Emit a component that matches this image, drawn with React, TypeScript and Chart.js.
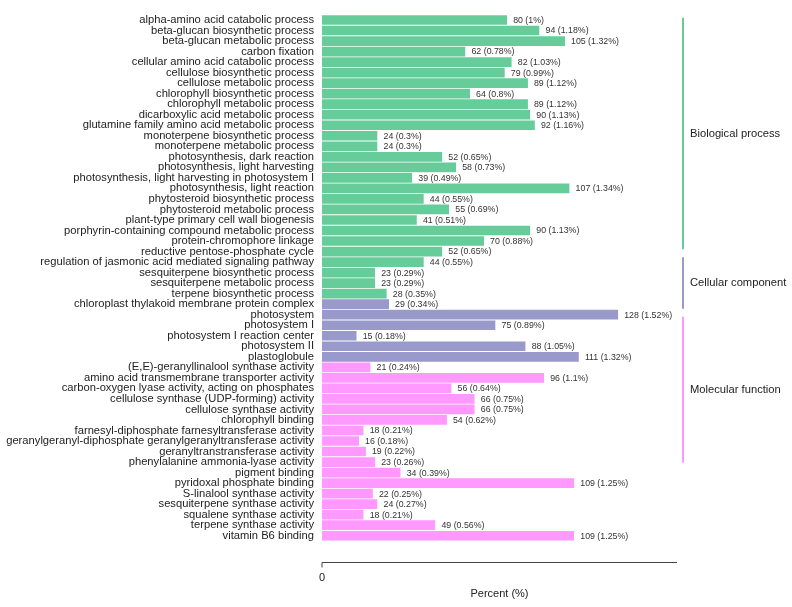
import React, { useEffect, useRef } from "react";
import { Chart, registerables } from "chart.js";

Chart.register(...registerables);

const categories: string[] = [
  "alpha-amino acid catabolic process",
  "beta-glucan biosynthetic process",
  "beta-glucan metabolic process",
  "carbon fixation",
  "cellular amino acid catabolic process",
  "cellulose biosynthetic process",
  "cellulose metabolic process",
  "chlorophyll biosynthetic process",
  "chlorophyll metabolic process",
  "dicarboxylic acid metabolic process",
  "glutamine family amino acid metabolic process",
  "monoterpene biosynthetic process",
  "monoterpene metabolic process",
  "photosynthesis, dark reaction",
  "photosynthesis, light harvesting",
  "photosynthesis, light harvesting in photosystem I",
  "photosynthesis, light reaction",
  "phytosteroid biosynthetic process",
  "phytosteroid metabolic process",
  "plant-type primary cell wall biogenesis",
  "porphyrin-containing compound metabolic process",
  "protein-chromophore linkage",
  "reductive pentose-phosphate cycle",
  "regulation of jasmonic acid mediated signaling pathway",
  "sesquiterpene biosynthetic process",
  "sesquiterpene metabolic process",
  "terpene biosynthetic process",
  "chloroplast thylakoid membrane protein complex",
  "photosystem",
  "photosystem I",
  "photosystem I reaction center",
  "photosystem II",
  "plastoglobule",
  "(E,E)-geranyllinalool synthase activity",
  "amino acid transmembrane transporter activity",
  "carbon-oxygen lyase activity, acting on phosphates",
  "cellulose synthase (UDP-forming) activity",
  "cellulose synthase activity",
  "chlorophyll binding",
  "farnesyl-diphosphate farnesyltransferase activity",
  "geranylgeranyl-diphosphate geranylgeranyltransferase activity",
  "geranyltranstransferase activity",
  "phenylalanine ammonia-lyase activity",
  "pigment binding",
  "pyridoxal phosphate binding",
  "S-linalool synthase activity",
  "sesquiterpene synthase activity",
  "squalene synthase activity",
  "terpene synthase activity",
  "vitamin B6 binding",
];

const counts: number[] = [
  80, 94, 105, 62, 82, 79, 89, 64, 89, 90, 92, 24, 24, 52, 58, 39, 107, 44, 55, 41, 90, 70, 52, 44, 23, 23, 28,
  29, 128, 75, 15, 88, 111,
  21, 96, 56, 66, 66, 54, 18, 16, 19, 23, 34, 109, 22, 24, 18, 49, 109,
];

const percents: string[] = [
  "1", "1.18", "1.32", "0.78", "1.03", "0.99", "1.12", "0.8", "1.12", "1.13", "1.16", "0.3", "0.3", "0.65",
  "0.73", "0.49", "1.34", "0.55", "0.69", "0.51", "1.13", "0.88", "0.65", "0.55", "0.29", "0.29", "0.35",
  "0.34", "1.52", "0.89", "0.18", "1.05", "1.32",
  "0.24", "1.1", "0.64", "0.75", "0.75", "0.62", "0.21", "0.18", "0.22", "0.26", "0.39", "1.25", "0.25",
  "0.27", "0.21", "0.56", "1.25",
];

const groupNames: string[] = ["Biological process", "Cellular component", "Molecular function"];
const groupSizes: number[] = [27, 6, 17];
const groupColors: string[] = ["#66CC99", "#9999CC", "#FF99FF"];
const xTicks: number[] = [0];
const xMax = 153.4;

const FONT = "'Liberation Sans', Arial, sans-serif";

const barColors: string[] = [];
groupSizes.forEach((n, g) => {
  for (let i = 0; i < n; i++) barColors.push(groupColors[g]);
});

const annotatePlugin = {
  id: "annotate",
  afterDatasetsDraw(chart: any) {
    const { ctx, chartArea } = chart;
    const meta = chart.getDatasetMeta(0);
    ctx.save();
    // value labels
    ctx.font = `8.8px ${FONT}`;
    ctx.textBaseline = "middle";
    ctx.textAlign = "left";
    meta.data.forEach((bar: any, i: number) => {
      const text = `${counts[i]} (${percents[i]}%)`;
      const w = ctx.measureText(text).width;
      ctx.fillStyle = "#ffffff";
      ctx.fillRect(bar.x, bar.y - 5, w + 10, 10);
      ctx.fillStyle = "#333333";
      ctx.fillText(text, bar.x + 6, bar.y + 0.5);
    });

    // x axis line offset below bars
    const xs = chart.scales.x;
    const x0 = xs.getPixelForValue(0);
    const yLine = Math.round(chartArea.bottom + 21) + 0.5;
    ctx.strokeStyle = "#444444";
    ctx.lineWidth = 1;
    ctx.beginPath();
    ctx.moveTo(x0, yLine + 5);
    ctx.lineTo(x0, yLine);
    ctx.lineTo(chartArea.right, yLine);
    ctx.stroke();

    // group brackets
    const ys = chart.scales.y;
    const rowH = (ys.getPixelForValue(1) - ys.getPixelForValue(0));
    const unit = rowH * 0.815;
    const gap = 8;
    let y = chartArea.top + 3;
    const bx = chartArea.right + 6;
    ctx.lineWidth = 2;
    ctx.font = `11.2px ${FONT}`;
    ctx.textBaseline = "middle";
    groupSizes.forEach((n, g) => {
      const y1 = y + n * unit;
      ctx.strokeStyle = groupColors[g];
      ctx.beginPath();
      ctx.moveTo(bx, y);
      ctx.lineTo(bx, y1);
      ctx.stroke();
      ctx.fillStyle = "#222222";
      ctx.fillText(groupNames[g], bx + 7, (y + y1) / 2);
      y = y1 + gap;
    });
    ctx.restore();
  },
};

export default function App() {
  const ref = useRef<HTMLCanvasElement>(null);
  useEffect(() => {
    if (!ref.current) return;
    const chart = new Chart(ref.current, {
      type: "bar",
      data: {
        labels: categories,
        datasets: [
          {
            data: counts,
            backgroundColor: barColors,
            borderWidth: 0,
            barPercentage: 0.92,
            categoryPercentage: 1,
          },
        ],
      },
      options: {
        indexAxis: "y",
        animation: false,
        responsive: false,
        layout: { padding: { top: 10, right: 115, left: 0, bottom: 0 } },
        plugins: { legend: { display: false }, tooltip: { enabled: false } },
        scales: {
          x: {
            min: 0,
            max: xMax,
            grid: { display: false, drawTicks: false },
            border: { display: false },
            afterBuildTicks: (s: any) => {
              s.ticks = xTicks.map((v) => ({ value: v }));
            },
            afterFit: (s: any) => {
              s.height = 66;
            },
            ticks: {
              padding: 30,
              color: "#222222",
              font: { family: FONT, size: 11 },
              maxRotation: 0,
            },
            title: {
              display: true,
              text: "Percent (%)",
              color: "#222222",
              font: { family: FONT, size: 11 },
              padding: { top: 0, bottom: 6 },
            },
          },
          y: {
            grid: { display: false, drawTicks: false },
            border: { display: false },
            afterFit: (s: any) => {
              s.width = 322;
            },
            ticks: {
              autoSkip: false,
              padding: 8,
              color: "#222222",
              font: { family: FONT, size: 11.2 },
            },
          },
        },
      },
      plugins: [annotatePlugin],
    });
    return () => chart.destroy();
  }, []);
  return (
    <div style={{ position: "fixed", left: 0, top: 0, width: 792, height: 607, background: "#fff" }}>
      <canvas ref={ref} width={792} height={607} style={{ display: "block" }} />
    </div>
  );
}
